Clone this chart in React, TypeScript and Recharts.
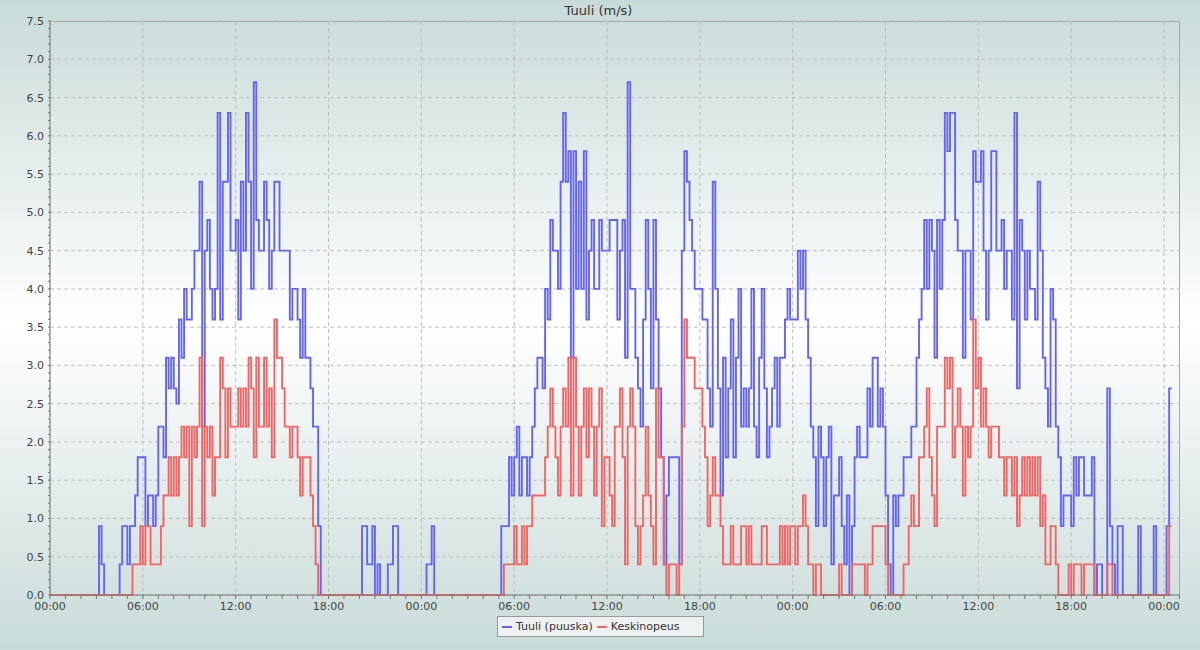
import React from 'react';
import { LineChart, Line, XAxis, YAxis, CartesianGrid } from 'recharts';

// 10 minute samples, one array per 6 hour block (m/s)
const gustD1h00 = [0,0,0,0,0,0,0,0,0,0, 0,0,0,0,0,0,0,0,0,0.9, 0.4,0,0,0,0,0,0,0.4,0.9,0.9, 0.4,0.9,0.9,1.3,1.8,1.8];
const gustD1h06 = [1.8,0.9,1.3,1.3,0.9,1.3,2.2,2.2,1.8,3.1, 2.7,3.1,2.7,2.5,3.6,3.1,4.0,3.6,3.6,4.0, 4.5,4.5,5.4,2.2,4.5,4.9,4.0,3.6,4.0,6.3, 3.6,5.4,5.4,6.3,4.5,4.5];
const gustD1h12 = [4.9,3.6,5.4,4.5,6.3,5.4,4.0,6.7,4.9,4.5, 4.5,5.4,4.9,4.0,4.5,5.4,5.4,4.5,4.5,4.5, 4.5,3.6,4.0,4.0,3.6,3.1,4.0,3.1,3.1,2.7, 2.2,2.2,0.9,0,0,0];
const gustD1h18 = [0,0,0,0,0,0,0,0,0,0, 0,0,0,0.9,0.9,0.4,0.4,0.9,0,0.4, 0,0,0,0.4,0.4,0.9,0.9,0,0,0, 0,0,0,0,0,0];
const gustD2h00 = [0,0,0.4,0.4,0.9,0,0,0,0,0, 0,0,0,0,0,0,0,0,0,0, 0,0,0,0,0,0,0,0,0,0, 0,0.9,0.9,0.9,1.8,1.3];
const gustD2h06 = [1.8,2.2,1.3,1.8,1.8,1.3,1.8,2.2,2.7,3.1, 3.1,2.7,4.0,3.6,4.9,4.5,4.5,4.0,5.4,6.3, 5.4,5.8,3.1,5.8,4.0,5.4,4.0,5.8,3.6,4.5, 4.9,4.0,4.0,4.9,4.5,4.5];
const gustD2h12 = [4.5,4.9,4.9,4.9,3.6,4.5,4.9,3.1,6.7,4.0, 4.0,3.1,2.7,2.2,3.6,4.9,4.0,2.7,4.9,3.6, 2.7,1.8,0.4,1.3,1.8,1.8,1.8,1.8,0.4,4.5, 5.8,5.4,4.9,4.5,4.0,4.0];
const gustD2h18 = [4.0,3.6,3.6,2.7,2.2,5.4,4.0,2.7,1.3,3.1, 1.8,2.7,3.6,1.8,3.1,4.0,2.2,2.7,2.2,2.7, 4.0,2.2,1.8,3.1,4.0,2.7,1.8,2.2,2.7,3.1, 2.2,3.1,3.1,3.6,4.0,3.6];
const gustD3h00 = [3.6,3.6,4.5,4.0,4.5,3.6,3.1,2.2,1.8,0.9, 2.2,1.8,0.9,1.8,2.2,0.4,1.3,1.3,1.8,0.9, 0.4,1.3,0,0.9,1.8,2.2,1.8,1.8,1.8,2.7, 2.2,3.1,3.1,2.2,2.7,2.2];
const gustD3h06 = [1.3,0.4,0,1.3,0.9,1.3,1.3,1.8,1.8,1.8, 2.2,2.2,3.1,3.6,4.0,4.9,4.0,4.9,4.5,3.1, 4.9,4.0,4.9,6.3,5.8,6.3,6.3,4.9,4.5,4.5, 3.1,4.5,4.5,3.6,5.8,5.4];
const gustD3h12 = [5.4,5.8,4.5,3.6,4.5,5.8,5.8,4.5,4.5,4.9, 4.0,4.5,4.5,3.6,6.3,2.7,4.9,4.5,3.6,4.5, 4.0,4.0,3.6,5.4,4.5,3.1,2.7,2.2,4.0,3.6, 2.2,1.8,0.9,1.3,1.3,1.3];
const gustD3h18 = [0.9,1.8,1.3,1.8,1.8,1.3,1.3,1.3,1.8,0, 0.4,0.4,0,0,2.7,0.9,0.4,0,0.9,0.9, 0,0,0,0,0,0,0.9,0,0,0, 0,0,0.9,0,0,0];
const gustD4h00 = [0,0.9,2.7,2.7];

const meanD1h00 = [0,0,0,0,0,0,0,0,0,0, 0,0,0,0,0,0,0,0,0,0, 0,0,0,0,0,0,0,0,0,0, 0,0,0.4,0.4,0.4,0.9];
const meanD1h06 = [0.4,0.9,0.9,0.4,0.4,0.4,0.4,0.9,1.3,1.3, 1.8,1.3,1.8,1.3,1.8,2.2,1.8,2.2,0.9,2.2, 1.8,2.2,3.1,0.9,2.2,1.8,2.2,1.3,1.8,1.8, 3.1,2.7,1.8,2.7,2.2,2.2];
const meanD1h12 = [2.2,2.7,2.2,2.7,2.2,3.1,2.7,1.8,3.1,2.2, 2.2,3.1,2.2,2.7,1.8,3.6,3.1,3.1,2.7,2.2, 2.2,1.8,2.2,2.2,1.8,1.3,1.8,1.8,1.8,1.3, 0.9,0.4,0,0,0,0];
const meanD1h18 = [0,0,0,0,0,0,0,0,0,0, 0,0,0,0,0,0,0,0,0,0, 0,0,0,0,0,0,0,0,0,0, 0,0,0,0,0,0];
const meanD2h00 = [0,0,0,0,0,0,0,0,0,0, 0,0,0,0,0,0,0,0,0,0, 0,0,0,0,0,0,0,0,0,0, 0,0,0.4,0.4,0.4,0.4];
const meanD2h06 = [0.9,0.4,0.4,0.9,0.4,0.9,0.9,1.3,1.3,1.3, 1.3,1.3,1.8,2.2,2.7,2.2,1.8,1.3,2.2,2.7, 2.2,3.1,1.3,3.1,2.2,1.3,2.2,2.7,1.8,2.7, 2.2,1.3,2.2,2.7,0.9,1.8];
const meanD2h12 = [1.8,1.3,0.9,2.2,2.2,2.7,1.8,0.4,2.2,2.7, 2.2,0.9,0.4,0.9,1.3,2.2,1.3,0.9,0.4,2.7, 1.8,1.8,0.4,0,0.4,0.4,0.4,0,0.4,2.2, 3.6,3.1,3.1,3.1,2.7,2.7];
const meanD2h18 = [2.7,2.2,1.8,0.9,1.3,1.8,1.3,1.3,0.9,0.4, 0.4,0.4,0.9,0.4,0.4,0.4,0.9,0.9,0.4,0.9, 0.4,0.4,0.4,0.4,0.9,0.9,0.4,0.4,0.4,0.4, 0.4,0.9,0.4,0.9,0.4,0.9];
const meanD3h00 = [0.9,0.4,0.9,0.9,1.3,0.9,0.4,0.4,0,0.4, 0.4,0,0,0,0,0,0,0,0.4,0, 0,0,0,0.4,0.4,0.4,0.4,0.4,0,0.4, 0.4,0.9,0.9,0.9,0.9,0.9];
const meanD3h06 = [0.4,0,0,0,0,0,0,0.4,0.4,0.9, 1.3,0.9,0.9,1.8,1.8,2.2,2.7,1.8,1.3,0.9, 2.2,2.2,2.2,3.1,2.7,3.1,1.8,2.2,2.7,2.2, 1.3,2.2,1.8,2.2,3.6,2.7];
const meanD3h12 = [3.1,2.2,2.7,2.2,1.8,2.2,2.2,2.2,1.8,1.8, 1.3,1.8,1.8,1.3,1.8,0.9,1.3,1.8,1.3,1.8, 1.3,1.8,1.3,1.8,0.9,1.3,0.4,0.4,0.9,0.9, 0.4,0,0,0,0,0.4];
const meanD3h18 = [0,0.4,0.4,0.4,0,0.4,0.4,0.4,0.4,0, 0,0,0,0,0.4,0.4,0,0,0,0, 0,0,0,0,0,0,0,0,0,0, 0,0,0,0,0,0];
const meanD4h00 = [0,0,0.9,0.9];

const xTickLabels = ['00:00', '06:00', '12:00', '18:00', '00:00', '06:00', '12:00', '18:00', '00:00', '06:00', '12:00', '18:00', '00:00'];
const yTickLabels = ['0.0', '0.5', '1.0', '1.5', '2.0', '2.5', '3.0', '3.5', '4.0', '4.5', '5.0', '5.5', '6.0', '6.5', '7.0', '7.5'];

const gust = [
  ...gustD1h00, ...gustD1h06, ...gustD1h12, ...gustD1h18,
  ...gustD2h00, ...gustD2h06, ...gustD2h12, ...gustD2h18,
  ...gustD3h00, ...gustD3h06, ...gustD3h12, ...gustD3h18,
  ...gustD4h00,
];
const mean = [
  ...meanD1h00, ...meanD1h06, ...meanD1h12, ...meanD1h18,
  ...meanD2h00, ...meanD2h06, ...meanD2h12, ...meanD2h18,
  ...meanD3h00, ...meanD3h06, ...meanD3h12, ...meanD3h18,
  ...meanD4h00,
];

// minutes since the first midnight
const data = gust.map((g, i) => ({ min: i * 10, gust: g, mean: mean[i] }));

const hourTicks = Array.from({ length: 74 }, (_, i) => i * 60);
const majorX = xTickLabels.map((_, i) => i * 360);
const tenthTicks = Array.from({ length: 76 }, (_, i) => i / 10);
const majorY = yTickLabels.map((_, i) => i * 0.5);

const FONT = '"DejaVu Sans", sans-serif';
const BLUE = '#6464f8';
const RED = '#f46464';

const XTick = ({ x, y, payload }: any) => {
  const v = payload.value;
  if (v % 360 !== 0) return null;
  return (
    <text x={x} y={y + 9} textAnchor="middle" fontSize={11} fontFamily={FONT} fill="#444">
      {xTickLabels[v / 360]}
    </text>
  );
};

const YTick = ({ x, y, payload }: any) => {
  const k = Math.round(payload.value * 10);
  if (k % 5 !== 0) return null;
  return (
    <text x={x} y={y + 4} textAnchor="end" fontSize={11} fontFamily={FONT} fill="#444">
      {yTickLabels[k / 5]}
    </text>
  );
};

export default function App() {
  return (
    <div
      style={{
        position: 'relative',
        width: 1200,
        height: 650,
        background: 'linear-gradient(to bottom, #c8dbd8 0%, #ffffff 50%, #c8dbd8 100%)',
        fontFamily: FONT,
      }}
    >
      <style>{'body{margin:0}'}</style>
      <div
        style={{
          position: 'absolute',
          top: 3,
          left: 0,
          width: 1197,
          textAlign: 'center',
          fontSize: 13,
          color: '#333',
        }}
      >
        Tuuli (m/s)
      </div>
      <div
        style={{
          position: 'absolute',
          left: 50,
          top: 21,
          width: 1130,
          height: 574,
          borderTop: '1px solid #a8a8a8',
          borderRight: '1px solid #a8a8a8',
          boxSizing: 'border-box',
          pointerEvents: 'none',
        }}
      />
      <LineChart
        width={1200}
        height={650}
        data={data}
        margin={{ top: 21, right: 20, bottom: 0, left: 0 }}
        style={{ position: 'absolute', left: 0, top: 0 }}
      >
        <CartesianGrid
          horizontalValues={majorY}
          verticalValues={majorX}
          stroke="#bdbdbd"
          strokeDasharray="4 3"
        />
        <XAxis
          dataKey="min"
          type="number"
          domain={[0, 4382]}
          ticks={hourTicks}
          interval={0}
          height={55}
          tickSize={4}
          tickMargin={2}
          stroke="#777"
          tick={<XTick />}
        />
        <YAxis
          type="number"
          domain={[0, 7.5]}
          ticks={tenthTicks}
          interval={0}
          width={50}
          tickSize={2}
          tickMargin={4}
          stroke="#777"
          tick={<YTick />}
        />
        <Line
          type="stepAfter"
          dataKey="gust"
          stroke={BLUE}
          strokeWidth={1.9}
          dot={false}
          isAnimationActive={false}
        />
        <Line
          type="stepAfter"
          dataKey="mean"
          stroke={RED}
          strokeWidth={1.9}
          dot={false}
          isAnimationActive={false}
        />
      </LineChart>
      <div
        style={{
          position: 'absolute',
          left: 497,
          top: 616,
          width: 207,
          height: 21,
          border: '1px solid #999',
          boxSizing: 'border-box',
          background: '#eef1f1',
          display: 'flex',
          alignItems: 'center',
          fontSize: 11,
          color: '#333',
        }}
      >
        <span style={{ width: 10, borderTop: `2px solid ${BLUE}`, marginLeft: 4, marginRight: 4 }} />
        <span style={{ marginRight: 4 }}>Tuuli (puuska)</span>
        <span style={{ width: 10, borderTop: `2px solid ${RED}`, marginLeft: 0, marginRight: 4 }} />
        <span>Keskinopeus</span>
      </div>
    </div>
  );
}
